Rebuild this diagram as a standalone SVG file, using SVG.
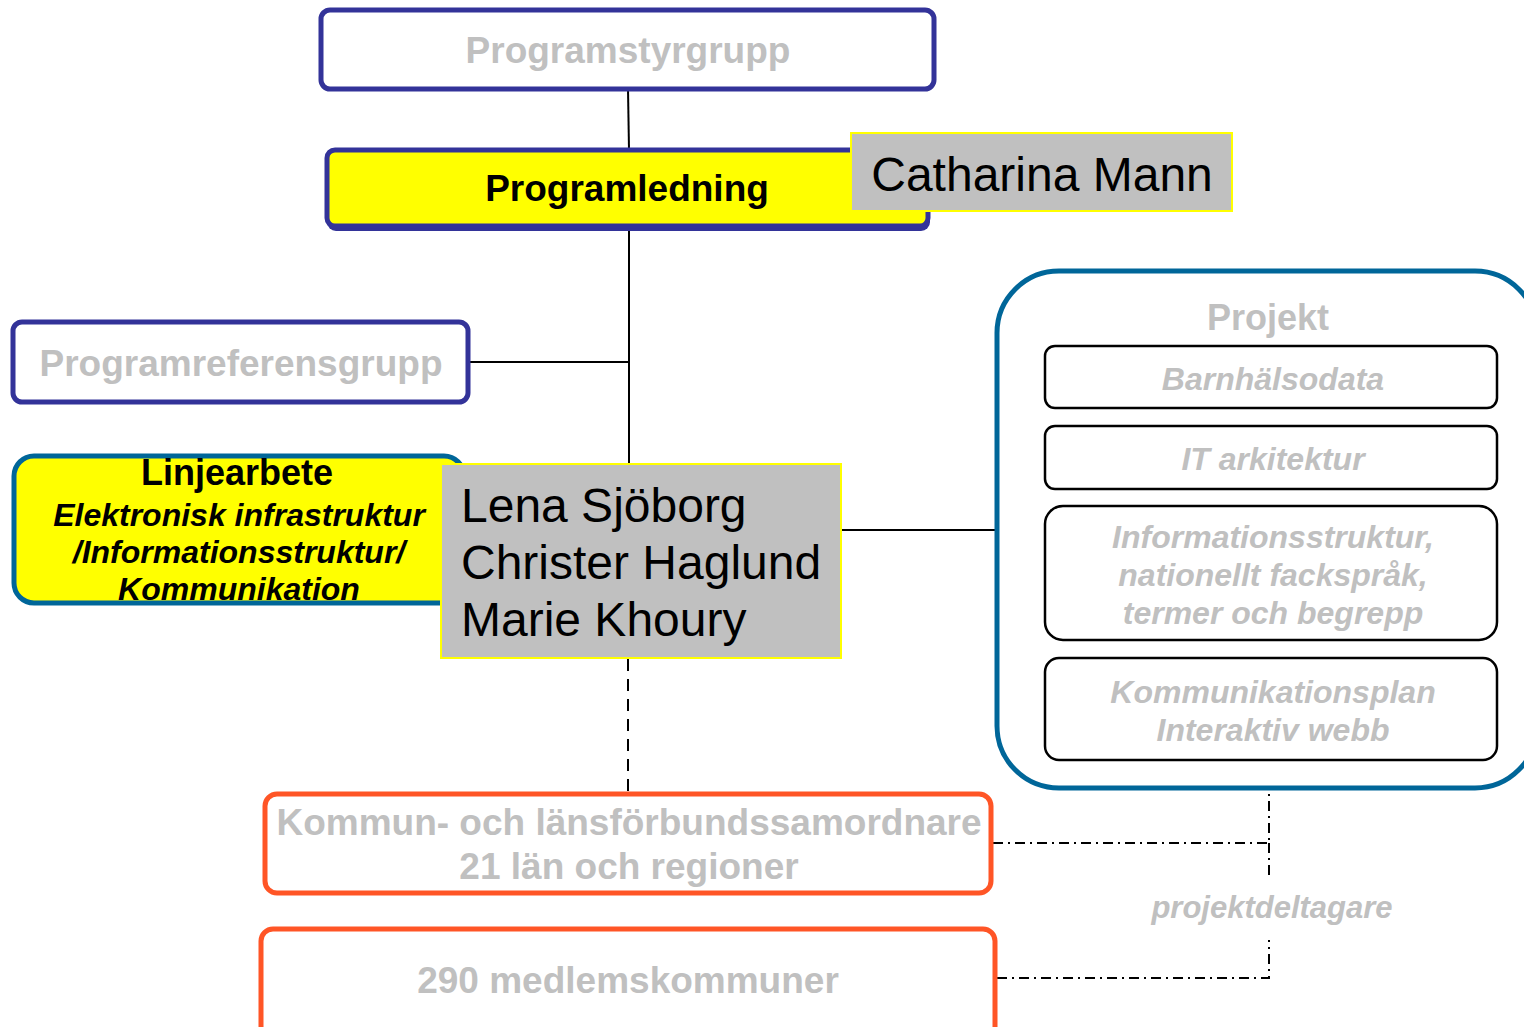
<svg xmlns="http://www.w3.org/2000/svg" width="1524" height="1027" viewBox="0 0 1524 1027">
<style>
.t{font-family:"Liberation Sans",Arial,sans-serif;text-anchor:middle}
.g{fill:#C0C0C0;font-weight:bold}
.gi{fill:#C0C0C0;font-weight:bold;font-style:italic}
.blue{fill:#fff;stroke:#333399;stroke-width:5}
.org{fill:#fff;stroke:#FF5526;stroke-width:5}
.inner{fill:#fff;stroke:#000;stroke-width:2.5}
.con{stroke:#000;stroke-width:2;fill:none}
.dd{stroke:#000;stroke-width:2;fill:none;stroke-dasharray:10 5 2 5}
</style>
<rect width="1524" height="1027" fill="#fff"/>
<g id="connectors">
<line class="con" x1="628" y1="89" x2="629" y2="150"/>
<line class="con" x1="629" y1="230" x2="629" y2="464"/>
<line class="con" x1="468" y1="362" x2="629" y2="362"/>
<line class="con" x1="841" y1="530" x2="997" y2="530"/>
<line class="con" x1="628" y1="659" x2="628" y2="792" stroke-dasharray="12 8"/>
<polyline class="dd" points="993,843 1269,843 1269,790"/>
<polyline class="dd" points="1269,875 1269,843"/>
<polyline class="dd" points="997,978 1269,978 1269,940"/>
</g>
<g id="programstyrgrupp">
<rect class="blue" x="321" y="10" width="613" height="79" rx="9"/>
<text class="t g" x="628" y="63" font-size="37">Programstyrgrupp</text>
</g>
<g id="programledning">
<rect x="327" y="151" width="603" height="80" rx="9" fill="#333399"/>
<rect x="327" y="150" width="601" height="76" rx="8" fill="#FFFF00" stroke="#333399" stroke-width="5"/>
<text class="t" x="627" y="201" font-size="37" font-weight="bold" fill="#000">Programledning</text>
</g>
<g id="catharina">
<rect x="851" y="133" width="381" height="78" fill="#C0C0C0" stroke="#FFFF00" stroke-width="2"/>
<text class="t" x="1042" y="191" font-size="48" fill="#000">Catharina Mann</text>
</g>
<g id="programreferensgrupp">
<rect class="blue" x="13" y="322" width="455" height="80" rx="9"/>
<text class="t g" x="241" y="376" font-size="37">Programreferensgrupp</text>
</g>
<g id="linjearbete">
<rect x="14" y="456" width="450" height="147" rx="20" fill="#FFFF00" stroke="#006699" stroke-width="5"/>
<text class="t" x="237" y="485" font-size="36" font-weight="bold" fill="#000">Linjearbete</text>
<text class="t" x="239" y="526" font-size="32" font-weight="bold" font-style="italic" fill="#000">Elektronisk infrastruktur</text>
<text class="t" x="239" y="563" font-size="32" font-weight="bold" font-style="italic" fill="#000">/Informationsstruktur/</text>
<text class="t" x="239" y="600" font-size="32" font-weight="bold" font-style="italic" fill="#000">Kommunikation</text>
</g>
<g id="personer">
<rect x="441" y="464" width="400" height="194" fill="#C0C0C0" stroke="#FFFF00" stroke-width="2"/>
<text x="461" y="522" font-size="48" font-family="Liberation Sans, Arial, sans-serif" fill="#000">Lena Sjöborg</text>
<text x="461" y="579" font-size="48" font-family="Liberation Sans, Arial, sans-serif" fill="#000">Christer Haglund</text>
<text x="461" y="636" font-size="48" font-family="Liberation Sans, Arial, sans-serif" fill="#000">Marie Khoury</text>
</g>
<g id="projekt">
<rect x="997" y="271" width="540" height="517" rx="62" fill="#fff" stroke="#006699" stroke-width="5"/>
<text class="t g" x="1268" y="330" font-size="36">Projekt</text>
</g>
<g id="barnhalsodata">
<rect class="inner" x="1045" y="346" width="452" height="62" rx="10"/>
<text class="t gi" x="1273" y="390" font-size="32">Barnhälsodata</text>
</g>
<g id="itarkitektur">
<rect class="inner" x="1045" y="426" width="452" height="63" rx="10"/>
<text class="t gi" x="1273" y="470" font-size="32">IT arkitektur</text>
</g>
<g id="informationsstruktur">
<rect class="inner" x="1045" y="506" width="452" height="134" rx="18"/>
<text class="t gi" x="1273" y="548" font-size="32">Informationsstruktur,</text>
<text class="t gi" x="1273" y="586" font-size="32">nationellt fackspråk,</text>
<text class="t gi" x="1273" y="624" font-size="32">termer och begrepp</text>
</g>
<g id="kommunikationsplan">
<rect class="inner" x="1045" y="658" width="452" height="102" rx="14"/>
<text class="t gi" x="1273" y="703" font-size="32">Kommunikationsplan</text>
<text class="t gi" x="1273" y="741" font-size="32">Interaktiv webb</text>
</g>
<g id="samordnare">
<rect class="org" x="265" y="794" width="726" height="99" rx="12"/>
<text class="t g" x="629" y="835" font-size="37">Kommun- och länsförbundssamordnare</text>
<text class="t g" x="629" y="879" font-size="37">21 län och regioner</text>
</g>
<g id="medlemskommuner">
<rect class="org" x="261" y="929" width="734" height="110" rx="12"/>
<text class="t g" x="628" y="993" font-size="37">290 medlemskommuner</text>
</g>
<g id="projektdeltagare">
<text class="t gi" x="1272" y="918" font-size="31">projektdeltagare</text>
</g>
</svg>
